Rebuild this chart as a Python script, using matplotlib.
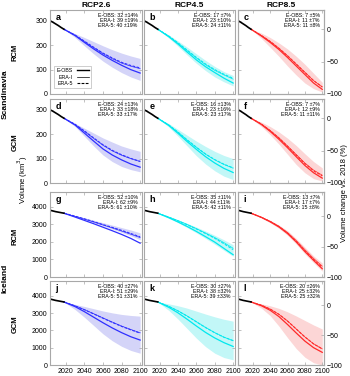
import matplotlib
matplotlib.use("Agg")
import matplotlib.pyplot as plt

plt.rcParams['font.family'] = ['Liberation Sans', 'DejaVu Sans']

# observed volume (black), km3
hist_years = [2003, 2006, 2009, 2012, 2015, 2018]
scand_hist = [301, 295, 288, 281, 273, 266]
ice_hist = [3810, 3770, 3730, 3700, 3670, 3640]

proj_years = [2018, 2030, 2040, 2050, 2060, 2070, 2080, 2090, 2100]

# projections per panel a..l (km3)
eobs = [
    [266, 240, 212, 185, 160, 138, 118, 100, 86],
    [266, 235, 205, 172, 140, 112, 88, 65, 45],
    [266, 238, 212, 183, 150, 115, 80, 45, 19],
    [266, 238, 205, 172, 140, 115, 95, 78, 65],
    [266, 236, 204, 170, 138, 108, 82, 60, 43],
    [266, 240, 212, 180, 145, 108, 72, 42, 20],
    [3640, 3420, 3230, 3040, 2840, 2640, 2430, 2200, 1930],
    [3640, 3380, 3140, 2880, 2600, 2300, 1990, 1630, 1270],
    [3640, 3400, 3150, 2860, 2480, 2000, 1450, 950, 470],
    [3640, 3370, 3080, 2760, 2440, 2140, 1870, 1630, 1440],
    [3640, 3330, 3010, 2640, 2250, 1880, 1560, 1290, 1070],
    [3640, 3420, 3160, 2800, 2340, 1850, 1380, 1000, 730],
]
erai = [
    [266, 241, 215, 190, 166, 145, 127, 114, 104],
    [266, 237, 208, 178, 148, 120, 97, 78, 61],
    [266, 240, 216, 188, 157, 123, 89, 55, 29],
    [266, 240, 212, 183, 155, 132, 114, 100, 88],
    [266, 238, 208, 176, 146, 118, 95, 76, 61],
    [266, 242, 216, 186, 152, 117, 82, 53, 32],
    [3640, 3460, 3300, 3140, 2970, 2800, 2620, 2440, 2250],
    [3640, 3420, 3220, 3000, 2760, 2510, 2250, 1960, 1640],
    [3640, 3410, 3180, 2900, 2540, 2080, 1560, 1060, 620],
    [3640, 3420, 3200, 2960, 2720, 2480, 2250, 2050, 1860],
    [3640, 3390, 3130, 2830, 2500, 2170, 1870, 1610, 1400],
    [3640, 3450, 3230, 2930, 2540, 2080, 1620, 1220, 930],
]
era5 = [
    [266, 242, 217, 192, 168, 148, 130, 117, 107],
    [266, 238, 210, 180, 150, 123, 100, 81, 64],
    [266, 240, 216, 188, 157, 123, 89, 55, 29],
    [266, 241, 214, 185, 157, 134, 116, 101, 89],
    [266, 238, 209, 177, 147, 119, 96, 77, 62],
    [266, 242, 215, 185, 151, 115, 80, 50, 29],
    [3640, 3470, 3320, 3160, 2990, 2830, 2660, 2480, 2290],
    [3640, 3410, 3200, 2980, 2740, 2480, 2210, 1900, 1560],
    [3640, 3400, 3170, 2880, 2510, 2040, 1500, 1000, 550],
    [3640, 3410, 3190, 2950, 2700, 2460, 2230, 2030, 1840],
    [3640, 3380, 3120, 2820, 2490, 2160, 1860, 1600, 1410],
    [3640, 3450, 3230, 2930, 2540, 2080, 1620, 1220, 930],
]
band_lo = [
    [266, 232, 198, 165, 135, 110, 88, 70, 56],
    [266, 230, 196, 160, 126, 96, 70, 50, 33],
    [266, 228, 192, 155, 115, 78, 45, 22, 8],
    [266, 232, 192, 152, 115, 88, 68, 55, 46],
    [266, 230, 192, 152, 112, 78, 50, 28, 14],
    [266, 232, 198, 160, 118, 76, 42, 18, 8],
    [3640, 3440, 3270, 3100, 2920, 2740, 2550, 2350, 2130],
    [3640, 3360, 3100, 2820, 2520, 2200, 1870, 1520, 1180],
    [3640, 3370, 3100, 2780, 2380, 1880, 1320, 820, 330],
    [3640, 3200, 2760, 2280, 1800, 1400, 1080, 840, 680],
    [3640, 3150, 2650, 2100, 1550, 1060, 680, 430, 300],
    [3640, 3280, 2850, 2250, 1580, 950, 450, 130, 0],
]
band_hi = [
    [266, 248, 232, 215, 198, 182, 168, 156, 146],
    [266, 242, 218, 192, 165, 138, 113, 92, 76],
    [266, 250, 232, 210, 185, 155, 122, 85, 48],
    [266, 245, 225, 205, 185, 168, 152, 140, 130],
    [266, 244, 220, 196, 172, 150, 130, 113, 100],
    [266, 250, 232, 210, 184, 154, 120, 88, 62],
    [3640, 3500, 3370, 3240, 3100, 2960, 2820, 2680, 2520],
    [3640, 3440, 3260, 3060, 2850, 2620, 2380, 2120, 1840],
    [3640, 3440, 3230, 2970, 2640, 2200, 1700, 1200, 800],
    [3640, 3500, 3380, 3250, 3120, 3010, 2920, 2860, 2820],
    [3640, 3530, 3420, 3280, 3110, 2940, 2780, 2640, 2530],
    [3640, 3530, 3420, 3270, 3070, 2830, 2570, 2310, 2080],
]
stats = [
    ("32 ±14%", "39 ±19%", "40 ±19%"),
    ("17 ±7%", "23 ±10%", "24 ±11%"),
    ("7 ±5%", "11 ±7%", "11 ±8%"),
    ("24 ±13%", "33 ±18%", "33 ±17%"),
    ("16 ±13%", "23 ±16%", "23 ±17%"),
    ("7 ±7%", "12 ±9%", "11 ±11%"),
    ("52 ±10%", "62 ±9%", "61 ±10%"),
    ("35 ±11%", "44 ±11%", "42 ±11%"),
    ("13 ±7%", "17 ±7%", "15 ±8%"),
    ("40 ±27%", "51 ±29%", "51 ±31%"),
    ("30 ±27%", "38 ±32%", "39 ±33%"),
    ("20 ±26%", "25 ±32%", "25 ±32%"),
]
letters = list("abcdefghijkl")
scenarios = ["RCP2.6", "RCP4.5", "RCP8.5"]
line_cols = ["#2f2fff", "#00e8ee", "#ff2a2a"]
band_cols = ["#d4d4f8", "#c2f7f7", "#fcd6d6"]

W, H = 350, 376
col_x = [(50, 142), (144, 235), (238, 324)]
row_y = [(10, 94), (99, 183), (192, 277), (281, 365)]
grey = "#a8a8a8"


def rect(l, t, r, b):
    return [l / W, 1 - b / H, (r - l) / W, (b - t) / H]


fig = plt.figure(figsize=(3.5, 3.76), dpi=100)

for r in range(4):
    scand = r < 2
    for c in range(3):
        i = r * 3 + c
        ax = fig.add_axes(rect(col_x[c][0], row_y[r][0], col_x[c][1], row_y[r][1]))
        ax.fill_between(proj_years, band_lo[i], band_hi[i], color=band_cols[c], lw=0)
        ax.plot(proj_years, erai[i], color=line_cols[c], lw=0.5)
        ax.plot(proj_years, era5[i], color=line_cols[c], lw=0.8, ls=(0, (2.5, 1.2)))
        ax.plot(proj_years, eobs[i], color=line_cols[c], lw=0.9)
        ax.plot(hist_years, scand_hist if scand else ice_hist, color="black", lw=1.2)

        ax.set_xlim(2003, 2102)
        ax.set_xticks([2020, 2040, 2060, 2080, 2100])
        if scand:
            ax.set_ylim(0, 345)
            ax.set_yticks([0, 100, 200, 300])
        else:
            ax.set_ylim(0, 4850)
            ax.set_yticks([0, 1000, 2000, 3000, 4000])
        ax.tick_params(direction="in", length=2, width=0.5, color=grey,
                       labelsize=5, pad=2, top=True, right=(c < 2))
        if c > 0:
            ax.set_yticklabels([])
        if r < 3:
            ax.set_xticklabels([])
        for s in ax.spines.values():
            s.set_color(grey)
            s.set_linewidth(0.8)

        if c == 2:
            ax2 = ax.twinx()
            ax2.set_ylim(-100, 30 if scand else 40)
            ax2.set_yticks([-100, -50, 0])
            ax2.tick_params(direction="in", length=2, width=0.5, color=grey,
                            labelsize=5, pad=2)
            for s in ax2.spines.values():
                s.set_color(grey)
                s.set_linewidth(0.8)

        if r == 0:
            ax.set_title(scenarios[c], fontsize=6, fontweight="bold", pad=2)

        ax.annotate(letters[i], xy=(0, 1), xycoords="axes fraction",
                    xytext=(4, -2), textcoords="offset points",
                    ha="left", va="top", fontsize=6.5, fontweight="bold")
        txt = "E-OBS: %s\nERA-I: %s\nERA-5: %s" % stats[i]
        ax.annotate(txt, xy=(1, 1), xycoords="axes fraction",
                    xytext=(-3, -2.5), textcoords="offset points",
                    ha="right", va="top", fontsize=3.8, linespacing=0.95)

        if i == 0:
            h1, = ax.plot([], [], color="black", lw=1.0)
            h2, = ax.plot([], [], color="black", lw=0.5)
            h3, = ax.plot([], [], color="black", lw=0.8, ls=(0, (2.5, 1.2)))
            leg = ax.legend([h1, h2, h3], ["E-OBS", "ERA-I", "ERA-5"],
                            loc="lower left", fontsize=3.8, markerfirst=False,
                            handlelength=2.2, handletextpad=0.8,
                            borderpad=0.4, labelspacing=0.25,
                            bbox_to_anchor=(0.02, 0.04), fancybox=False)
            leg.get_frame().set_edgecolor(grey)
            leg.get_frame().set_linewidth(0.5)

# row / region labels
for lab, y in [("RCM", 52), ("GCM", 142), ("RCM", 236), ("GCM", 324)]:
    fig.text(15 / W, 1 - y / H, lab, rotation=90, fontsize=5.5,
             fontweight="bold", ha="center", va="center")
fig.text(5 / W, 1 - 94 / H, "Scandinavia", rotation=90, fontsize=6,
         fontweight="bold", ha="center", va="center")
fig.text(5 / W, 1 - 278 / H, "Iceland", rotation=90, fontsize=6,
         fontweight="bold", ha="center", va="center")
fig.text(23 / W, 1 - 180 / H, "Volume (km$^3$)", rotation=90, fontsize=5.5,
         ha="center", va="center")
fig.text(345 / W, 1 - 193 / H, "Volume change vs. 2018 (%)", rotation=90,
         fontsize=5.5, ha="center", va="center")

fig.savefig("out.png", dpi=100)
